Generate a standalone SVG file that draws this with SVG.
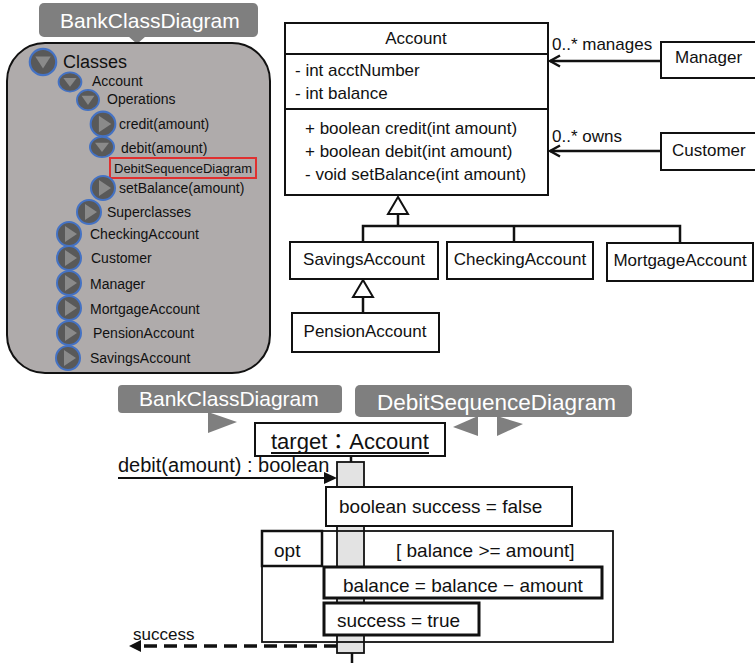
<svg xmlns="http://www.w3.org/2000/svg" xmlns:xlink="http://www.w3.org/1999/xlink" width="755" height="663" viewBox="0 0 755 663">
<style>
text{font-family:"Liberation Sans","Noto Sans CJK JP",sans-serif;fill:#111;}
.t14{font-size:14px;}
.t17{font-size:17px;}
.t19{font-size:19px;}
.box{fill:#fff;stroke:#111;stroke-width:2;}
.tbox{fill:#fff;stroke:#111;stroke-width:3;}
.ln{fill:none;stroke:#111;stroke-width:2.5;}
.ic{fill:#595959;stroke:#4472c4;stroke-width:2;}
.tri{fill:#8a8a8a;}
.call{fill:#7f7f7f;}
</style>
<defs>
<g id="icoDown"><circle r="12" class="ic"/><polygon points="-7,-5 7,-5 0,6" class="tri"/></g>
<g id="icoRight"><circle r="12" class="ic"/><polygon points="-4,-8 8,0 -4,8" class="tri"/></g>
<marker id="open" viewBox="0 0 14 14" refX="12" refY="7" markerWidth="14" markerHeight="14" markerUnits="userSpaceOnUse" orient="auto"><path d="M2,1.5 L12,7 L2,12.5" fill="none" stroke="#111" stroke-width="2.5"/></marker>
</defs>

<!-- Tree panel -->
<g id="treeCallout">
<rect x="39" y="3" width="219" height="34" rx="5" class="call"/>
<polygon points="128,36 146,36 137,44" class="call"/>
<text x="60" y="28" style="font-size:21px;fill:#fff">BankClassDiagram</text>
</g>
<g id="treePanel">
<rect x="7" y="43" width="263" height="330" rx="38" fill="#afabab" stroke="#111" stroke-width="2"/>
<use xlink:href="#icoDown" transform="translate(43,62) scale(1.1)"/>
<text x="63" y="68" style="font-size:18px">Classes</text>
<use xlink:href="#icoDown" transform="translate(70,82) scale(0.95,0.8)"/>
<text x="92" y="86" class="t14">Account</text>
<use xlink:href="#icoDown" transform="translate(88,100) scale(0.92,0.85)"/>
<text x="107" y="104" class="t14">Operations</text>
<use xlink:href="#icoRight" transform="translate(103,124) scale(1.03)"/>
<text x="119" y="129" class="t14">credit(amount)</text>
<use xlink:href="#icoDown" transform="translate(102,147) scale(1,0.85)"/>
<text x="121" y="153" class="t14">debit(amount)</text>
<rect x="110" y="158" width="146" height="20" fill="none" stroke="#e03030" stroke-width="2"/>
<text x="114" y="173" style="font-size:13px">DebitSequenceDiagram</text>
<use xlink:href="#icoRight" transform="translate(103,188)"/>
<text x="119" y="193" class="t14">setBalance(amount)</text>
<use xlink:href="#icoRight" transform="translate(89,212)"/>
<text x="107" y="217" class="t14">Superclasses</text>
<use xlink:href="#icoRight" transform="translate(69,234)"/>
<text x="90" y="239" class="t14">CheckingAccount</text>
<use xlink:href="#icoRight" transform="translate(69,258)"/>
<text x="91" y="263" class="t14">Customer</text>
<use xlink:href="#icoRight" transform="translate(69,283)"/>
<text x="90" y="289" class="t14">Manager</text>
<use xlink:href="#icoRight" transform="translate(69,308)"/>
<text x="90" y="314" class="t14">MortgageAccount</text>
<use xlink:href="#icoRight" transform="translate(69,333)"/>
<text x="93" y="338" class="t14">PensionAccount</text>
<use xlink:href="#icoRight" transform="translate(68,358)"/>
<text x="90" y="363" class="t14">SavingsAccount</text>
</g>

<!-- Class diagram -->
<g id="Account">
<rect x="285" y="23" width="263" height="172" class="box"/>
<line x1="285" y1="54" x2="548" y2="54" stroke="#111" stroke-width="2"/>
<line x1="285" y1="109" x2="548" y2="109" stroke="#111" stroke-width="2"/>
<text x="416" y="44" class="t17" text-anchor="middle">Account</text>
<text x="295" y="76" class="t17">- int acctNumber</text>
<text x="295" y="99" class="t17">- int balance</text>
<text x="305" y="134" class="t17">+ boolean credit(int amount)</text>
<text x="305" y="157" class="t17">+ boolean debit(int amount)</text>
<text x="305" y="180" class="t17">- void setBalance(int amount)</text>
</g>
<g id="Manager">
<rect x="661" y="42" width="100" height="36" class="box"/>
<text x="675" y="63" class="t17">Manager</text>
</g>
<g id="Customer">
<rect x="661" y="133" width="100" height="37" class="box"/>
<text x="672" y="156" class="t17">Customer</text>
</g>
<g id="SavingsAccount">
<rect x="290" y="242" width="148" height="37" class="box"/>
<text x="364" y="265" class="t17" text-anchor="middle">SavingsAccount</text>
</g>
<g id="CheckingAccount">
<rect x="447" y="242" width="146" height="37" class="box"/>
<text x="520" y="265" class="t17" text-anchor="middle">CheckingAccount</text>
</g>
<g id="MortgageAccount">
<rect x="607" y="243" width="146" height="38" class="box"/>
<text x="680" y="266" class="t17" text-anchor="middle">MortgageAccount</text>
</g>
<g id="PensionAccount">
<rect x="292" y="313" width="147" height="39" class="box"/>
<text x="365" y="337" class="t17" text-anchor="middle">PensionAccount</text>
</g>
<g id="connectors">
<line x1="661" y1="61" x2="550" y2="61" class="ln" marker-end="url(#open)"/>
<line x1="661" y1="151" x2="550" y2="151" class="ln" marker-end="url(#open)"/>
<polygon points="398,197 388,214 408,214" fill="#fff" stroke="#111" stroke-width="2"/>
<line x1="398" y1="214" x2="398" y2="226" class="ln"/>
<polyline points="363,243 363,226 680,226 680,243" class="ln"/>
<line x1="514" y1="226" x2="514" y2="242" class="ln"/>
<polygon points="363,280 353,297 373,297" fill="#fff" stroke="#111" stroke-width="2"/>
<line x1="363" y1="297" x2="363" y2="313" class="ln"/>
<text x="552" y="50" class="t17">0..* manages</text>
<text x="552" y="142" class="t17">0..* owns</text>
</g>

<!-- Sequence diagram -->
<g id="seqCallouts">
<rect x="118" y="385" width="224" height="28" rx="4" class="call"/>
<polygon points="208,412 237,422 208,433" class="call"/>
<text x="139" y="406" style="font-size:21px;fill:#fff">BankClassDiagram</text>
<rect x="355" y="385" width="277" height="32" rx="5" class="call"/>
<polygon points="478,416 453,427 478,436" class="call"/>
<polygon points="497,416 523,424 497,436" class="call"/>
<text x="377" y="410" style="font-size:22.5px;fill:#fff">DebitSequenceDiagram</text>
</g>
<g id="lifeline">
<line x1="351" y1="456" x2="351" y2="463" stroke="#111" stroke-width="2.5"/>
<rect x="337" y="462" width="27" height="191" fill="#e3e3e3" stroke="#111" stroke-width="1.8"/>
<line x1="352" y1="653" x2="352" y2="663" stroke="#111" stroke-width="2.5"/>
</g>
<g id="target">
<rect x="255" y="423" width="190" height="33" class="box"/>
<text x="271" y="449" style="font-size:22px">target：Account</text>
<line x1="271" y1="453" x2="429" y2="453" stroke="#111" stroke-width="2"/>
</g>
<g id="messages">
<line x1="118" y1="478" x2="326" y2="478" stroke="#111" stroke-width="2"/>
<polygon points="337,478 324,472 324,484" fill="#111"/>
<text x="118" y="472" style="font-size:20px">debit(amount) : boolean</text>
<line x1="337" y1="646" x2="140" y2="646" stroke="#111" stroke-width="3.5" stroke-dasharray="13,7"/>
<polygon points="129,646 141,640 141,652" fill="#111"/>
<text x="133" y="640" class="t17">success</text>
</g>
<g id="init">
<rect x="326" y="487" width="246" height="39" class="box"/>
<text x="339" y="513" class="t19">boolean success = false</text>
</g>
<g id="opt">
<rect x="262" y="531" width="351" height="111" fill="none" stroke="#111" stroke-width="1.8"/>
<rect x="262" y="531" width="60" height="35" fill="#fff" stroke="#111" stroke-width="2.5"/>
<text x="274" y="557" class="t19">opt</text>
<text x="396" y="557" class="t19">[ balance &gt;= amount]</text>
</g>
<g id="subtract">
<rect x="324" y="567" width="278" height="31" class="tbox"/>
<text x="343" y="592" class="t19">balance = balance − amount</text>
</g>
<g id="setTrue">
<rect x="324" y="603" width="155" height="32" class="tbox"/>
<text x="337" y="627" class="t19">success = true</text>
</g>
</svg>
